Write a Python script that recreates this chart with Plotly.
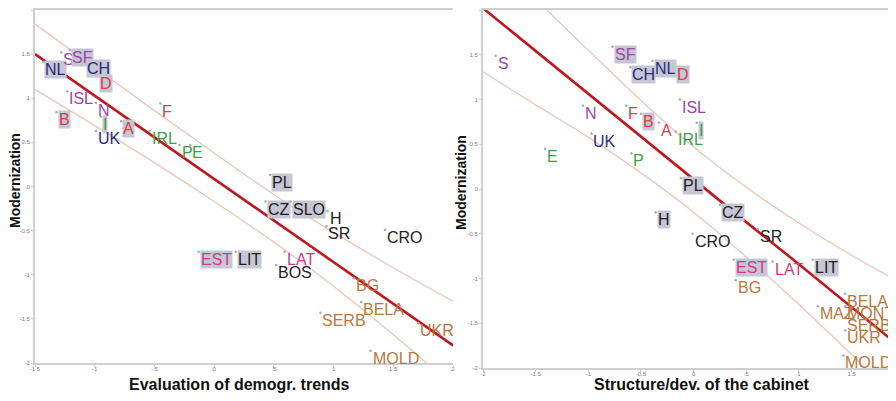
import plotly.graph_objects as go

# ---------------- data: panel 1 (Evaluation of demogr. trends) ----------------
p1_labels = ["NL", "S", "SF", "CH", "D", "ISL", "N", "B", "I", "UK", "A", "F", "IRL", "P", "E",
             "PL", "CZ", "SLO", "H", "SR", "CRO", "EST", "LIT", "LAT", "BOS", "BG", "BELA", "SERB",
             "UKR", "MOLD"]
p1_x = [-1.43, -1.28, -1.21, -1.08, -0.97, -1.23, -0.99, -1.32, -0.95, -0.99, -0.78, -0.45, -0.54,
        -0.29, -0.20, 0.47, 0.43, 0.64, 0.95, 0.94, 1.43, -0.13, 0.18, 0.59, 0.52, 1.17, 1.23, 0.89,
        1.71, 1.31]
p1_y = [1.41, 1.52, 1.55, 1.42, 1.25, 1.08, 0.95, 0.84, 0.79, 0.63, 0.74, 0.94, 0.63, 0.47, 0.47,
        0.13, -0.17, -0.17, -0.28, -0.45, -0.49, -0.74, -0.74, -0.74, -0.89, -1.04, -1.31, -1.43,
        -1.55, -1.86]
p1_trend_x = [-1.5, -1.0, -0.5, 0.0, 0.5, 1.0, 1.5, 2.0]
p1_fit = [1.50, 1.03, 0.56, 0.09, -0.38, -0.85, -1.32, -1.80]
p1_upper = [1.84, 1.35, 0.86, 0.38, -0.09, -0.52, -0.92, -1.30]
p1_lower = [1.10, 0.69, 0.27, -0.17, -0.63, -1.13, -1.68, -2.26]

# ---------------- data: panel 2 (Structure/dev. of the cabinet) ----------------
p2_labels = ["S", "E", "N", "UK", "SF", "CH", "NL", "D", "F", "B", "A", "ISL", "IRL", "I", "P",
             "PL", "H", "CZ", "SR", "CRO", "EST", "LAT", "LIT", "BG", "BELA", "MAZ", "MONT", "SERB",
             "UKR", "MOLD"]
p2_x = [-1.88, -1.41, -1.05, -0.97, -0.77, -0.60, -0.39, -0.18, -0.64, -0.50, -0.33, -0.13, -0.17,
        0.03, -0.59, -0.12, -0.36, 0.25, 0.61, -0.01, 0.38, 0.75, 1.13, 0.40, 1.44, 1.18, 1.44, 1.44,
        1.44, 1.42]
p2_y = [1.49, 0.45, 0.93, 0.62, 1.59, 1.36, 1.43, 1.36, 0.93, 0.84, 0.74, 1.00, 0.64, 0.74, 0.40,
        0.12, -0.26, -0.18, -0.45, -0.50, -0.79, -0.81, -0.79, -1.02, -1.17, -1.31, -1.31, -1.44,
        -1.58, -1.86]
p2_trend_x = [-2.0, -1.5, -1.0, -0.5, 0.0, 0.5, 1.0, 1.5, 2.0]
p2_fit = [2.02, 1.54, 1.07, 0.59, 0.11, -0.37, -0.84, -1.32, -1.80]
p2_upper = [2.70, 2.12, 1.55, 0.99, 0.47, 0.02, -0.38, -0.74, -1.07]
p2_lower = [1.31, 0.94, 0.58, 0.18, -0.26, -0.76, -1.29, -1.85, -2.44]

x1_ticks = [-1.5, -1, -0.5, 0, 0.5, 1, 1.5, 2]
x1_ticktext = ["-1.5", "-1", "-.5", "0", ".5", "1", "1.5", "2"]
x2_ticks = [-2, -1.5, -1, -0.5, 0, 0.5, 1, 1.5]
x2_ticktext = ["-2", "-1.5", "-1", "-0.5", "0", ".5", "1", "1.5"]
y_ticks = [-2, -1.5, -1, -0.5, 0, 0.5, 1, 1.5, 2]
y_ticktext = ["-2", "-1.5", "-1", "-0.5", "0", "0.5", "1", "1.5", "2"]

x1_title = "Evaluation of demogr. trends"
x2_title = "Structure/dev. of the cabinet"
y_title = "Modernization"

# ---------------- styles ----------------
GROUP_COLOR = {
    "navy": "#2b2b7c", "purple": "#9a48a6", "red": "#d2434b", "green": "#3c9e48",
    "black": "#1e1e1e", "pink": "#cf3a86", "brown": "#b9773c",
}
COUNTRY_GROUP = {
    "NL": "navy", "CH": "navy", "UK": "navy",
    "S": "purple", "SF": "purple", "ISL": "purple", "N": "purple",
    "D": "red", "B": "red", "F": "red", "A": "red",
    "I": "green", "IRL": "green", "P": "green", "E": "green",
    "PL": "black", "CZ": "black", "SLO": "black", "H": "black", "SR": "black", "CRO": "black",
    "LIT": "black", "BOS": "black",
    "EST": "pink", "LAT": "pink",
    "BG": "brown", "SERB": "brown", "BELA": "brown", "UKR": "brown", "MOLD": "brown",
    "MAZ": "brown", "MONT": "brown",
}
p1_boxed = {"NL", "SF", "CH", "D", "B", "I", "A", "PL", "CZ", "SLO", "EST", "LIT"}
p2_boxed = {"SF", "CH", "NL", "D", "B", "I", "PL", "H", "CZ", "EST", "LIT"}
BOX = "#c6c6d4"
FIT = "#c2161f"
BAND = "#e8c6bd"
AXIS = "#cfcfcf"
FONT = "Liberation Sans, Arial, sans-serif"

W, H = 896, 401
OFF = 8  # the page body margin shifts the figure by this many pixels


def px(v):
    return (v - OFF) / W


def py(v):
    return 1 - (v - OFF) / H


fig = go.Figure()

panels = [
    ("x", "y", p1_labels, p1_x, p1_y, p1_trend_x, p1_fit, p1_upper, p1_lower, p1_boxed),
    ("x2", "y2", p2_labels, p2_x, p2_y, p2_trend_x, p2_fit, p2_upper, p2_lower, p2_boxed),
]
annotations = []
for xa, ya, labs, xs, ys, tx, fit, up, lo, boxed in panels:
    for band in (up, lo):
        fig.add_trace(go.Scatter(x=tx, y=band, xaxis=xa, yaxis=ya, mode="lines",
                                 line=dict(color=BAND, width=1.3, shape="spline"),
                                 hoverinfo="skip", showlegend=False))
    fig.add_trace(go.Scatter(x=tx, y=fit, xaxis=xa, yaxis=ya, mode="lines",
                             line=dict(color=FIT, width=2.6), hoverinfo="skip", showlegend=False))
    fig.add_trace(go.Scatter(x=xs, y=ys, xaxis=xa, yaxis=ya, mode="markers",
                             marker=dict(size=2.5, color="#a8a8b4"), text=labs,
                             showlegend=False))
    for lab, xv, yv in zip(labs, xs, ys):
        annotations.append(dict(
            x=xv, y=yv, xref=xa, yref=ya, text=lab, showarrow=False,
            xanchor="left", yanchor="top", xshift=1, yshift=2,
            font=dict(family=FONT, size=16, color=GROUP_COLOR[COUNTRY_GROUP[lab]]),
            bgcolor=BOX if lab in boxed else "rgba(0,0,0,0)", borderpad=0))

# axis titles
xt_font = dict(family=FONT, size=16, color="#111")
yt_font = dict(family=FONT, size=14, color="#111")
annotations += [
    dict(text="<b>%s</b>" % x1_title, x=px(239), y=py(384), xref="paper", yref="paper",
         showarrow=False, xanchor="center", yanchor="middle", font=xt_font),
    dict(text="<b>%s</b>" % x2_title, x=px(702), y=py(384), xref="paper", yref="paper",
         showarrow=False, xanchor="center", yanchor="middle", font=xt_font),
    dict(text="<b>%s</b>" % y_title, x=px(15), y=py(181), xref="paper", yref="paper",
         showarrow=False, xanchor="center", yanchor="middle", textangle=-90, font=yt_font),
    dict(text="<b>%s</b>" % y_title, x=px(461), y=py(182), xref="paper", yref="paper",
         showarrow=False, xanchor="center", yanchor="middle", textangle=-90, font=yt_font),
]

tick_font = dict(family=FONT, size=6, color="#7a7a7a")
common = dict(showgrid=False, zeroline=False, showline=True, linecolor=AXIS, linewidth=2,
              ticks="outside", ticklen=2, tickcolor=AXIS, tickwidth=1, tickfont=tick_font,
              fixedrange=True, automargin=False)

fig.update_layout(
    width=W, height=H, margin=dict(l=0, r=0, t=0, b=0, autoexpand=False),
    paper_bgcolor="white", plot_bgcolor="white", showlegend=False,
    xaxis=dict(domain=[px(35), px(453)], range=[-1.5, 2], tickvals=x1_ticks,
               ticktext=x1_ticktext, mirror=True, anchor="y", ticklabelstandoff=-3, **common),
    yaxis=dict(domain=[py(363), py(10)], range=[-2, 2], tickvals=y_ticks,
               ticktext=y_ticktext, anchor="x", **common),
    xaxis2=dict(domain=[px(483), 1.0], range=[-2, -2 + (W + OFF - 483) / 105.3],
                tickvals=x2_ticks, ticktext=x2_ticktext, mirror=True, anchor="y2",
                ticklabelstandoff=-3, **common),
    yaxis2=dict(domain=[py(368), py(10)], range=[-2, 2], tickvals=y_ticks,
                ticktext=y_ticktext, anchor="x2", **common),
    annotations=annotations,
)

fig.write_html("out.html")
